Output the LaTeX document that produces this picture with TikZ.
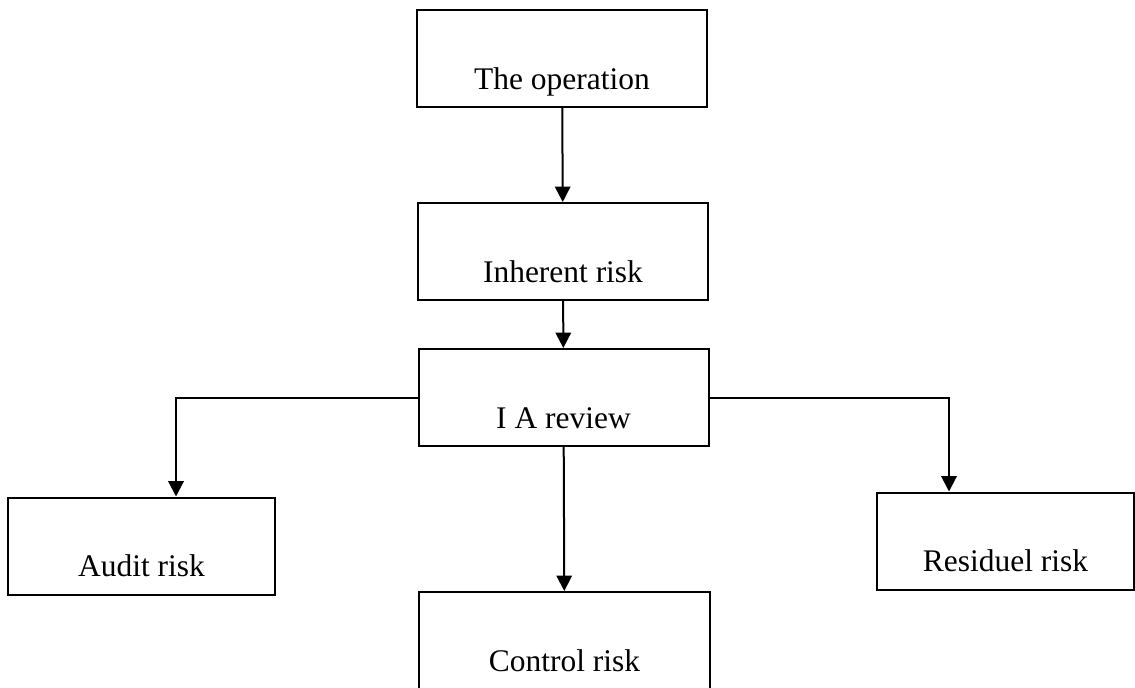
\documentclass[tikz,border=0pt]{standalone}
\usepackage{fontspec}
\setmainfont{Liberation Serif}
\usetikzlibrary{arrows.meta,calc}

\tikzset{every picture/.style={line width=1.5pt}}
\tikzset{
  riskbox/.style={draw,inner xsep=0pt,inner ysep=0pt,minimum width=217.5pt,minimum height=72.75pt,
    text height=59.25pt,text depth=13.5pt,font=\fontsize{23.6}{28}\selectfont},
  flow/.style={-{Triangle[length=11.5pt,width=11.5pt]}}
}

\begin{document}
\begin{tikzpicture}[x=0.75pt,y=0.75pt,yscale=-1]
\useasboundingbox (0,0) rectangle (1135,687);

%Boxes
\node [riskbox] (op) at (562,58.5) {The operation};
\node [riskbox] (inh) at (563,251.5) {Inherent risk};
\node [riskbox] (iar) at (563.5,397.5) {I A review};
\node [riskbox,minimum width=200.25pt] (aud) at (141.5,546) {Audit risk};
\node [riskbox,minimum width=192.75pt] (res) at (1005.5,541) {Residuel risk};
\node [riskbox,minimum width=218.25pt] (ctl) at (564.5,640.5) {Control risk};

%Arrows
\draw [flow] (op) -- (inh);
\draw [flow] (inh) -- (iar);
\draw [flow] (iar.west) -| ($(aud.north west)+(169,0)$);
\draw [flow] (iar.east) -| ($(res.north west)+(73,0)$);
\draw [flow] (iar) -- (ctl);

\end{tikzpicture}
\end{document}
